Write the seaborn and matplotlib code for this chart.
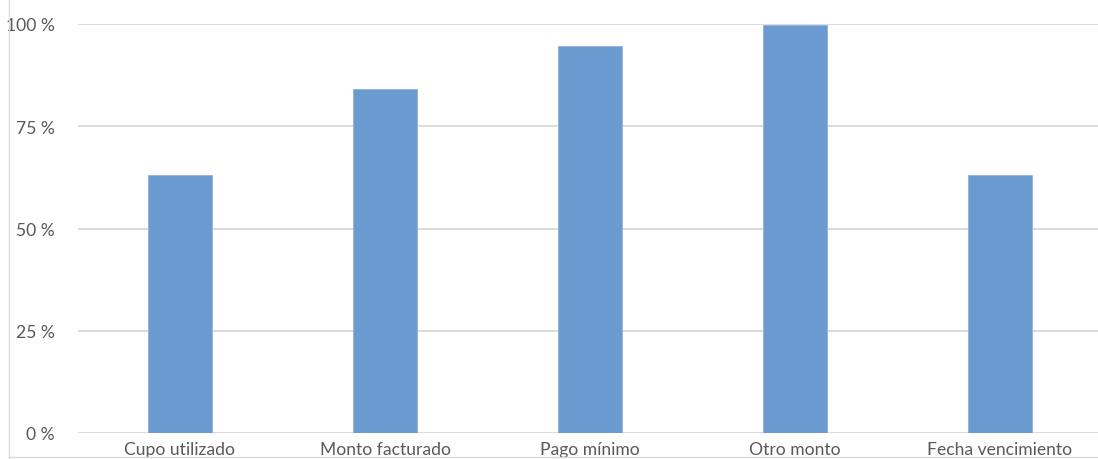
import matplotlib
matplotlib.use("Agg")
import matplotlib.pyplot as plt
import seaborn as sns
import pandas as pd
from matplotlib.lines import Line2D

categories = ["Cupo utilizado", "Monto facturado", "Pago mínimo", "Otro monto", "Fecha vencimiento"]
values = [63, 84, 94.7, 99.8, 63]
yticks = [0, 25, 50, 75, 100]
ytick_labels = ["0 %", "25 %", "50 %", "75 %", "100 %"]

sns.set_theme(style="white")
plt.rcParams['font.family'] = ['Lato', 'DejaVu Sans']

W, H = 1098, 460
fig = plt.figure(figsize=(W / 100, H / 100), dpi=100)
left_px, right_px = 77.5, 1102.5
bot_px, top_px = 434, 25
ax = fig.add_axes([left_px / W, (H - bot_px) / H, (right_px - left_px) / W, (bot_px - top_px) / H])

df = pd.DataFrame({"cat": categories, "val": values})
sns.barplot(data=df, x="cat", y="val", color="#6a9acf", saturation=1, width=0.31,
            edgecolor="#8fb3dc", linewidth=0.6, ax=ax, zorder=3)

ax.set_ylim(0, 100)
ax.set_xlim(-0.5, 4.5)
ax.set_yticks(yticks)
ax.set_yticklabels(ytick_labels)
ax.yaxis.grid(True, color="#d9d9d9", linewidth=1.3, zorder=0)
ax.set_axisbelow(True)
for s in ax.spines.values():
    s.set_visible(False)
ax.set_xlabel("")
ax.set_ylabel("")
ax.tick_params(axis="both", length=0, labelsize=12.6, colors="#595959")
ax.tick_params(axis="y", pad=16.5)
ax.tick_params(axis="x", pad=5.5)
for lbl in ax.get_yticklabels():
    lbl.set_clip_on(False)

# outer chart frame (left and bottom edges visible in crop)
fig.add_artist(Line2D([8.5 / W, 8.5 / W], [0, 1], transform=fig.transFigure, color="#d9d9d9", linewidth=1))
fig.add_artist(Line2D([8.5 / W, 1], [(H - 458) / H, (H - 458) / H], transform=fig.transFigure, color="#d9d9d9", linewidth=1))

fig.savefig("out.png", dpi=100)
